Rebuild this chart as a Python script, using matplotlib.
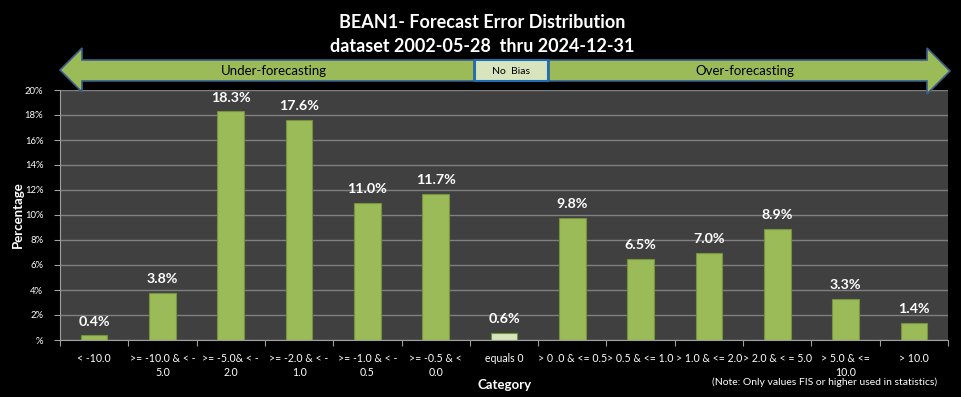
import matplotlib
matplotlib.use("Agg")
import matplotlib.pyplot as plt
from matplotlib.patches import Polygon, Rectangle

plt.rcParams['font.family'] = ['Lato', 'DejaVu Sans']

categories = ["< -10.0", ">= -10.0 & < -\n5.0", ">= -5.0& < -\n2.0", ">= -2.0 & < -\n1.0",
              ">= -1.0 & < -\n0.5", ">= -0.5 & <\n0.0", "equals 0", "> 0 .0 & <= 0.5",
              "> 0.5 & <= 1.0", "> 1.0 & <= 2.0", "> 2.0 & < = 5.0", "> 5.0 & <=\n10.0", "> 10.0"]
values = [0.4, 3.8, 18.3, 17.6, 11.0, 11.7, 0.6, 9.8, 6.5, 7.0, 8.9, 3.3, 1.4]
yticks = [0, 2, 4, 6, 8, 10, 12, 14, 16, 18, 20]
ytick_labels = ["%", "2%", "4%", "6%", "8%", "10%", "12%", "14%", "16%", "18%", "20%"]

W, H = 961, 397
fig = plt.figure(figsize=(W / 100, H / 100), dpi=100, facecolor="black")
ax = fig.add_axes([60 / W, 1 - 340 / H, (948 - 60) / W, (340 - 90) / H])
ax.set_facecolor("#404040")

n = len(categories)
x = list(range(n))
colors = ["#9BBB59"] * n
colors[6] = "#D7E4BD"
ax.bar(x, values, width=0.39, color=colors, edgecolor="#76923C", linewidth=0.8, zorder=3)
for xi, v in zip(x, values):
    ax.text(xi, v + 0.6, f"{v:.1f}%", ha="center", va="bottom", color="white",
            fontsize=10.3, fontweight="bold", zorder=4)

ax.set_xlim(-0.5, n - 0.5)
ax.set_ylim(0, 20)
ax.set_yticks(yticks)
ax.set_yticklabels(ytick_labels, color="white", fontsize=6.8)
ax.yaxis.grid(True, color="#7F7F7F", linewidth=1)
ax.set_axisbelow(True)
ax.set_xticks([i - 0.5 for i in range(n + 1)], minor=False)
ax.set_xticklabels([])
ax.set_xticks(x, minor=True)
ax.set_xticklabels(categories, minor=True, color="white", fontsize=7.6, linespacing=1.35)
ax.tick_params(axis="x", which="minor", length=0, pad=9)
ax.tick_params(axis="x", which="major", length=4, color="#A0A0A0")
ax.tick_params(axis="y", length=4, color="#A0A0A0", pad=8)
for s in ["top", "right"]:
    ax.spines[s].set_visible(False)
for s in ["left", "bottom"]:
    ax.spines[s].set_color("#A0A0A0")
ax.set_ylabel("Percentage", color="white", fontsize=9.5, fontweight="bold")
ax.yaxis.set_label_coords((24 - 60) / 888, 0.5)
fig.text(505 / W, 1 - 385 / H, "Category", color="white", fontsize=9.5, fontweight="bold",
         ha="center", va="center")
fig.text(825 / W, 1 - 382 / H, "(Note: Only values FIS or higher used in statistics)",
         color="white", fontsize=7.5, ha="center", va="center")

fig.text(482 / W, 1 - 22 / H, "BEAN1- Forecast Error Distribution", color="white",
         fontsize=13, fontweight="bold", ha="center", va="center")
fig.text(482 / W, 1 - 46 / H, "dataset 2002-05-28  thru 2024-12-31", color="white",
         fontsize=13, fontweight="bold", ha="center", va="center")

def P(px, py):
    return (px / W, 1 - py / H)

green = "#9BBB59"
edge = "#385D8A"
left = Polygon([P(60, 70), P(82, 48), P(82, 60), P(474, 60), P(474, 81), P(82, 81), P(82, 92)],
               closed=True, transform=fig.transFigure, facecolor=green, edgecolor=edge, lw=1.2)
right = Polygon([P(549, 60), P(927, 60), P(927, 48), P(950, 71), P(927, 94), P(927, 81), P(549, 81)],
                closed=True, transform=fig.transFigure, facecolor=green, edgecolor=edge, lw=1.2)
box = Rectangle(P(475, 81), 73 / W, 21 / H, transform=fig.transFigure,
                facecolor="#D7E4BD", edgecolor="#1F6FB5", lw=1.5)
for p in (left, right, box):
    fig.add_artist(p)
fig.text(274 / W, 1 - 71 / H, "Under-forecasting", fontsize=9.5, ha="center", va="center", color="black")
fig.text(511 / W, 1 - 71 / H, "No  Bias", fontsize=7.5, ha="center", va="center", color="black")
fig.text(745 / W, 1 - 71 / H, "Over-forecasting", fontsize=9.5, ha="center", va="center", color="black")

fig.savefig("out.png", dpi=100, facecolor="black")
